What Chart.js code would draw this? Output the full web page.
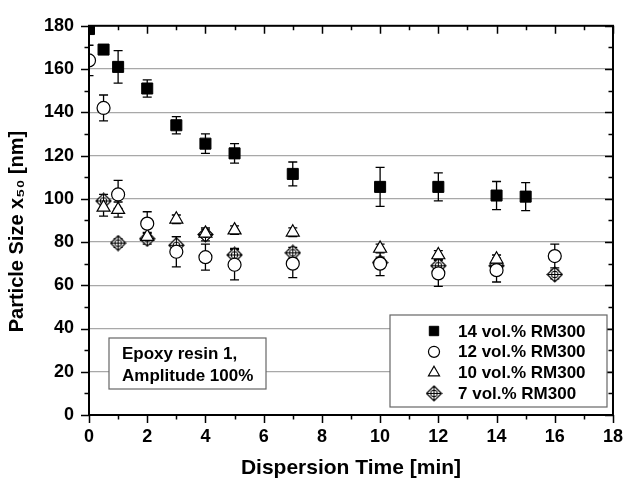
<!DOCTYPE html>
<html>
<head>
<meta charset="utf-8">
<script src="https://cdn.jsdelivr.net/npm/chart.js@4/dist/chart.umd.min.js"></script>
<style>
html, body { margin: 0; padding: 0; background: #fff; }
</style>
</head>
<body>
<canvas id="sizeChart" width="634" height="482"></canvas>
<script>
// values (x50 in nm, time in min)
const times14 = [0, 0.5, 1, 2, 3, 4, 5, 7, 10, 12, 14, 15];
const size14 = [178.5, 169, 161, 151, 134, 125.5, 121, 111.5, 105.5, 105.5, 101.5, 101];
const err14 = [2, 2, 7.5, 4, 4, 4.5, 4.5, 5.5, 9, 6.5, 6.5, 6.5];

const times12 = [0, 0.5, 1, 2, 3, 4, 5, 7, 10, 12, 14, 16];
const size12 = [164, 142, 102, 88.5, 75.5, 73, 69.5, 70, 70, 65.5, 67, 73.5];
const err12 = [7, 6, 6.5, 5.5, 7, 6, 7, 6.5, 5.5, 6, 5.5, 5.5];

const times10 = [0.5, 1, 2, 3, 4, 5, 7, 10, 12, 14];
const size10 = [96, 95, 82.5, 90.5, 84, 85.5, 84.5, 77, 74, 72];
const err10 = [4, 3.5, 2, 2, 2, 2, 2, 2, 2, 2];

const times7 = [0.5, 1, 2, 3, 4, 5, 7, 10, 12, 14, 16];
const size7 = [99, 79.5, 81.5, 78.5, 83.5, 74, 75, 70.5, 69, 69, 65];
const err7 = [3, 2, 2.5, 4, 3, 3, 2.5, 2.5, 3, 2.5, 2];

const seriesLabels = ['14 vol.% RM300', '12 vol.% RM300', '10 vol.% RM300', '7 vol.% RM300'];
const seriesErrors = [err14, err12, err10, err7];
const noteLines = ['Epoxy resin 1,', 'Amplitude 100%'];

const FONT = 'Liberation Sans, Arial, Helvetica, sans-serif';

function toPoints(xs, ys) {
    return xs.map((t, i) => ({ x: t, y: ys[i] }));
}

// diamond with a crossed circle inside, used for the 7 vol.% series
function makeDiamondCross(size) {
    const c = document.createElement('canvas');
    c.width = size;
    c.height = size;
    const g = c.getContext('2d');
    const m = size / 2, r = size / 2 - 1;
    g.strokeStyle = '#000';
    g.fillStyle = '#fff';
    g.lineWidth = 1.2;
    g.beginPath();
    g.moveTo(m, m - r); g.lineTo(m + r, m); g.lineTo(m, m + r); g.lineTo(m - r, m);
    g.closePath();
    g.fill();
    g.stroke();
    g.lineWidth = 1;
    g.beginPath();
    g.arc(m, m, r * 0.45, 0, Math.PI * 2);
    g.stroke();
    g.beginPath();
    g.moveTo(m, m - r); g.lineTo(m, m + r);
    g.moveTo(m - r, m); g.lineTo(m + r, m);
    g.stroke();
    return c;
}
const diamondCross = makeDiamondCross(17);

// error bars, drawn under the markers
const errorBars = {
    id: 'errorBars',
    beforeDatasetsDraw(chart) {
        const { ctx, chartArea: a, scales: { x, y } } = chart;
        ctx.save();
        ctx.beginPath();
        ctx.rect(a.left, a.top, a.right - a.left, a.bottom - a.top);
        ctx.clip();
        ctx.strokeStyle = '#000';
        ctx.lineWidth = 1.3;
        chart.data.datasets.forEach((ds, di) => {
            const errs = seriesErrors[di];
            ds.data.forEach((p, i) => {
                const e = errs[i];
                if (!e) return;
                const px = x.getPixelForValue(p.x);
                const top = y.getPixelForValue(p.y + e);
                const bot = y.getPixelForValue(p.y - e);
                ctx.beginPath();
                ctx.moveTo(px, top); ctx.lineTo(px, bot);
                ctx.moveTo(px - 4.5, top); ctx.lineTo(px + 4.5, top);
                ctx.moveTo(px - 4.5, bot); ctx.lineTo(px + 4.5, bot);
                ctx.stroke();
            });
        });
        ctx.restore();
    }
};

// frame, in/out tick marks, legend box and note box
const frameAndBoxes = {
    id: 'frameAndBoxes',
    afterDraw(chart) {
        const { ctx, chartArea: a, scales: { x, y } } = chart;
        ctx.save();
        ctx.strokeStyle = '#000';
        ctx.lineWidth = 2;
        ctx.strokeRect(a.left, a.top, a.right - a.left, a.bottom - a.top);

        ctx.lineWidth = 1.5;
        ctx.beginPath();
        for (let v = x.min; v <= x.max; v += 1) {
            const px = Math.round(x.getPixelForValue(v)) + 0.5;
            const len = v % 2 === 0 ? 8 : 4.5;
            ctx.moveTo(px, a.bottom); ctx.lineTo(px, a.bottom + len);
            ctx.moveTo(px, a.top); ctx.lineTo(px, a.top + len);
        }
        for (let v = y.min; v <= y.max; v += 10) {
            const py = Math.round(y.getPixelForValue(v)) + 0.5;
            const len = v % 20 === 0 ? 8 : 4.5;
            ctx.moveTo(a.left, py); ctx.lineTo(a.left - len, py);
            ctx.moveTo(a.right, py); ctx.lineTo(a.right - len, py);
        }
        ctx.stroke();

        // note box
        ctx.fillStyle = '#fff';
        ctx.strokeStyle = '#666';
        ctx.lineWidth = 1.2;
        ctx.fillRect(109, 338, 157, 51);
        ctx.strokeRect(109, 338, 157, 51);
        ctx.fillStyle = '#000';
        ctx.font = 'bold 17px ' + FONT;
        ctx.textBaseline = 'middle';
        ctx.textAlign = 'left';
        noteLines.forEach((s, i) => ctx.fillText(s, 122, 354 + i * 22));

        // legend box
        ctx.fillStyle = '#fff';
        ctx.fillRect(390, 315, 217, 92);
        ctx.strokeRect(390, 315, 217, 92);
        chart.data.datasets.forEach((ds, i) => {
            const cy = 331 + i * 20.8;
            ctx.fillStyle = ds.pointBackgroundColor;
            ctx.strokeStyle = ds.pointBorderColor;
            ctx.lineWidth = ds.pointBorderWidth;
            Chart.helpers.drawPoint(ctx, {
                pointStyle: ds.pointStyle,
                radius: ds.pointRadius * 0.85,
                borderWidth: ds.pointBorderWidth
            }, 434, cy);
            ctx.fillStyle = '#000';
            ctx.fillText(ds.label, 458, cy + 1);
        });
        ctx.restore();
    }
};

const ctx = document.getElementById('sizeChart').getContext('2d');
const sizeChart = new Chart(ctx, {
    type: 'scatter',
    data: {
        datasets: [
            {
                label: seriesLabels[0],
                data: toPoints(times14, size14),
                pointStyle: 'rect', pointRadius: 7.8,
                pointBackgroundColor: '#000', pointBorderColor: '#000', pointBorderWidth: 1,
                clip: 0
            },
            {
                label: seriesLabels[1],
                data: toPoints(times12, size12),
                pointStyle: 'circle', pointRadius: 6.5,
                pointBackgroundColor: '#fff', pointBorderColor: '#000', pointBorderWidth: 1.2,
                clip: 0
            },
            {
                label: seriesLabels[2],
                data: toPoints(times10, size10),
                pointStyle: 'triangle', pointRadius: 7.5,
                pointBackgroundColor: '#fff', pointBorderColor: '#000', pointBorderWidth: 1.2,
                clip: 0
            },
            {
                label: seriesLabels[3],
                data: toPoints(times7, size7),
                pointStyle: diamondCross, pointRadius: 8,
                pointBackgroundColor: '#fff', pointBorderColor: '#000', pointBorderWidth: 1.2,
                clip: 0
            }
        ]
    },
    options: {
        responsive: false,
        animation: false,
        events: [],
        layout: { padding: { top: 21, right: 11, left: 0, bottom: 0 } },
        plugins: {
            legend: { display: false },
            tooltip: { enabled: false }
        },
        scales: {
            x: {
                type: 'linear',
                min: 0,
                max: 18,
                afterFit(s) { s.height = 67; },
                grid: { display: false, drawTicks: false },
                border: { display: false },
                ticks: {
                    stepSize: 2,
                    padding: 11,
                    color: '#000',
                    font: { family: FONT, size: 18, weight: 'bold' }
                },
                title: {
                    display: true,
                    text: 'Dispersion Time [min]',
                    color: '#000',
                    font: { family: FONT, size: 21, weight: 'bold' },
                    padding: { top: 1, bottom: 1 }
                }
            },
            y: {
                min: 0,
                max: 180,
                afterFit(s) { s.width = 89; },
                grid: {
                    drawTicks: false,
                    lineWidth: 1.2,
                    color: (c) => (c.tick && c.tick.value > 0 && c.tick.value < 180) ? '#a8a8a8' : 'rgba(0,0,0,0)'
                },
                border: { display: false },
                ticks: {
                    stepSize: 20,
                    padding: 15,
                    color: '#000',
                    font: { family: FONT, size: 18, weight: 'bold' }
                },
                title: {
                    display: true,
                    text: 'Particle Size x\u2085\u2080 [nm]\u00a0\u00a0\u00a0\u00a0',
                    color: '#000',
                    font: { family: FONT, size: 20, weight: 'bold' },
                    padding: { top: 5, bottom: 0 }
                }
            }
        }
    },
    plugins: [errorBars, frameAndBoxes]
});
</script>
</body>
</html>
